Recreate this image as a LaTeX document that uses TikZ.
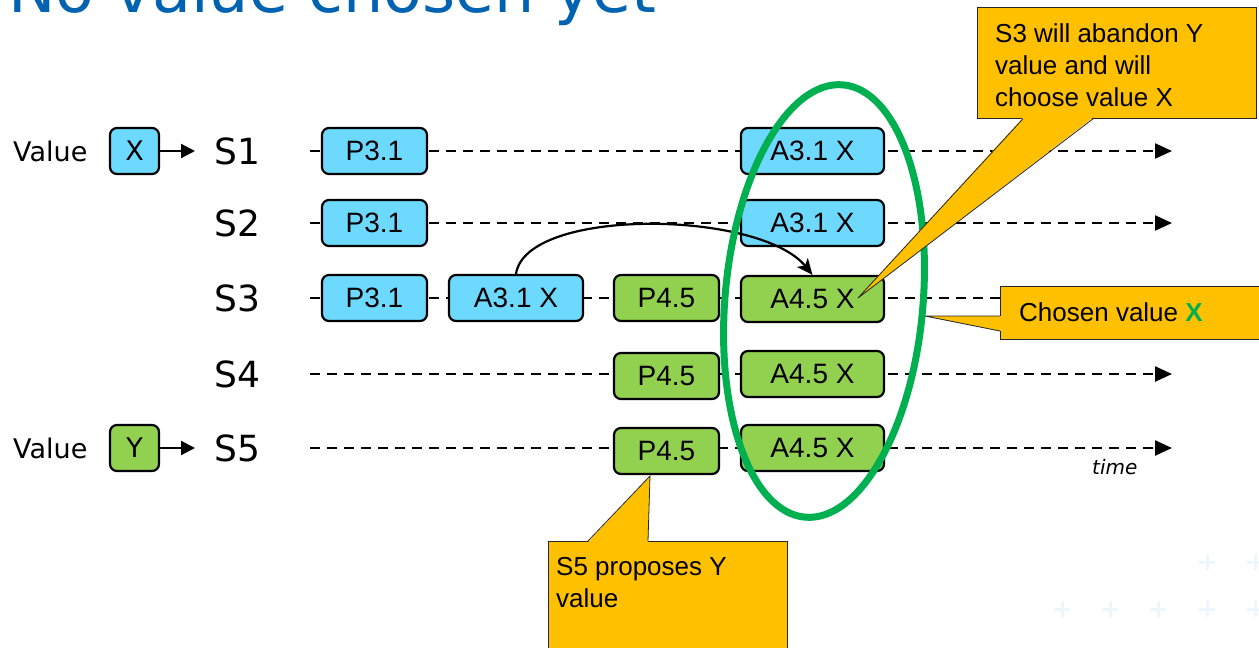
\documentclass[tikz,border=0pt]{standalone}
\usepackage{fontspec}
\setmainfont{Liberation Sans}
\newfontfamily\verd{DejaVu Sans}
\usetikzlibrary{arrows.meta,calc}

\definecolor{boxblue}{RGB}{109,217,255}
\definecolor{boxgreen}{RGB}{146,208,80}
\definecolor{calloutfill}{RGB}{255,192,0}
\definecolor{ringgreen}{RGB}{0,176,80}
\definecolor{titleblue}{RGB}{0,99,177}
\definecolor{faintplus}{RGB}{238,246,253}

\begin{document}
\begin{tikzpicture}[x=1pt,y=-1pt,
  msg/.style={draw=black, line width=2.2pt, rounded corners=7pt, minimum height=46pt,
    inner sep=0pt, font=\fontsize{28}{32}\selectfont},
  prop/.style={msg, minimum width=105pt},
  acc/.style={msg, minimum width=143pt},
  accl/.style={msg, minimum width=134pt},
  valbox/.style={draw=black, line width=2.2pt, rounded corners=7pt, minimum width=49pt,
    minimum height=46pt, inner sep=0pt, font=\verd\fontsize{27}{32}\selectfont},
  lbl/.style={inner sep=0pt, font=\verd\fontsize{27}{32}\selectfont},
  slbl/.style={inner sep=0pt, font=\verd\fontsize{36}{40}\selectfont},
  timeline/.style={line width=2.4pt, dash pattern=on 10pt off 7pt,
    -{Triangle[length=17pt,width=15pt]}},
  feed/.style={line width=2.2pt, -{Triangle[length=14pt,width=14pt]}},
  callout/.style={fill=calloutfill, draw=black!85, line width=0.8pt, inner sep=0pt},
  calloutline/.style={draw=black!85, line width=0.8pt},
  ctext/.style={inner sep=0pt, align=left, font=\fontsize{26}{32}\selectfont},
]
\useasboundingbox (0,0) rectangle (1259,648);
\fill[white] (0,0) rectangle (1259,648);

% faint background crosses
\foreach \p in {(1207,562),(1255,562),(1062,609),(1110,609),(1158,609),(1207,609),(1255,609)}
  \draw[faintplus, line width=3pt] \p +(-8,0) -- +(8,0) \p +(0,-8) -- +(0,8);

% heading
\node[anchor=base west, inner sep=0pt, text=titleblue,
  font=\verd\fontsize{63.5}{66}\selectfont] (title) at (8,12) {No value chosen yet};

% server labels
\node[slbl, anchor=west] (s1) at (214,151) {S1};
\node[slbl, anchor=west] (s2) at (214,223) {S2};
\node[slbl, anchor=west] (s3) at (214,298) {S3};
\node[slbl, anchor=west] (s4) at (214,374) {S4};
\node[slbl, anchor=west] (s5) at (214,448) {S5};

% client values
\node[lbl, anchor=west] (v1) at (13,151) {Value};
\node[valbox, fill=boxblue] (xv) at (134.5,151) {X};
\node[lbl, anchor=west] (v5) at (13,448) {Value};
\node[valbox, fill=boxgreen] (yv) at (134.5,448) {Y};
\draw[feed, shorten >=19pt] (xv.east) -- (s1.west);
\draw[feed, shorten >=19pt] (yv.east) -- (s5.west);

% time lines
\foreach \i/\y in {1/151,2/223,3/298,4/374,5/448} {
  \coordinate (r\i s) at (310,\y);
  \coordinate (r\i e) at (1172,\y);
  \draw[timeline] (r\i s) -- (r\i e);
}
\node[anchor=base west, inner sep=0pt, font=\verd\itshape\fontsize{20}{24}\selectfont]
  (time) at (1092,474) {time};

% messages
\node[prop, fill=boxblue] (p1) at (374.5,151) {P3.1};
\node[prop, fill=boxblue] (p2) at (374.5,223) {P3.1};
\node[prop, fill=boxblue] (p3) at (374.5,298) {P3.1};
\node[accl, fill=boxblue] (a3) at (516,298) {A3.1 X};
\node[prop, fill=boxgreen] (q3) at (666.5,298) {P4.5};
\node[prop, fill=boxgreen] (q4) at (666.5,376) {P4.5};
\node[prop, fill=boxgreen] (q5) at (666.5,451) {P4.5};
\node[acc, fill=boxblue] (b1) at (812.5,151) {A3.1 X};
\node[acc, fill=boxblue] (b2) at (812.5,223) {A3.1 X};
\node[acc, fill=boxgreen] (c3n) at (812.5,299) {A4.5 X};
\node[acc, fill=boxgreen] (c4n) at (812.5,374) {A4.5 X};
\node[acc, fill=boxgreen] (c5n) at (812.5,448) {A4.5 X};

% accepted value carried over
\draw[line width=2.2pt, -{Stealth[length=16pt,width=14pt,inset=4pt]}]
  (a3.north) .. controls +(10,-67) and +(-53,-65) .. (c3n.north);

% majority ring
\draw[ringgreen, line width=7pt, rotate around={-5:(824,301)}]
  (824,301) ellipse [x radius=99, y radius=217];

% callout: S3 decision
\node[callout, anchor=north west, minimum width=279pt, minimum height=111pt] (k1) at (977,7) {};
\coordinate (t1) at (858,298);
\fill[calloutfill] ($(k1.south west)+(46,-1.2)$) -- (t1) -- ($(k1.south west)+(116,-1.2)$) -- cycle;
\draw[calloutline] ($(k1.south west)+(46,0)$) -- (t1) -- ($(k1.south west)+(116,0)$);
\node[ctext, anchor=north west] (k1t) at (995,23) {S3 will abandon Y\\value and will\\choose value X};

% callout: chosen value
\node[callout, anchor=north west, minimum width=275pt, minimum height=53pt] (k2) at (1000,286) {};
\coordinate (t2) at (925,316);
\fill[calloutfill] ($(k2.north west)+(1.2,30)$) -- (t2) -- ($(k2.north west)+(1.2,45)$) -- cycle;
\draw[calloutline] ($(k2.north west)+(0,30)$) -- (t2) -- ($(k2.north west)+(0,45)$);
\node[ctext, anchor=base west] (k2t) at (1019,321) {Chosen value \textcolor{ringgreen}{\textbf{X}}};

% callout: S5 proposal
\node[callout, anchor=north west, minimum width=239pt, minimum height=125pt] (k3) at (548,541) {};
\coordinate (t3) at (650,476);
\fill[calloutfill] ($(k3.north west)+(40,1.2)$) -- (t3) -- ($(k3.north west)+(100,1.2)$) -- cycle;
\draw[calloutline] ($(k3.north west)+(40,0)$) -- (t3) -- ($(k3.north west)+(100,0)$);
\node[ctext, anchor=north west] (k3t) at (556,557) {S5 proposes Y\\value};
\end{tikzpicture}
\end{document}
